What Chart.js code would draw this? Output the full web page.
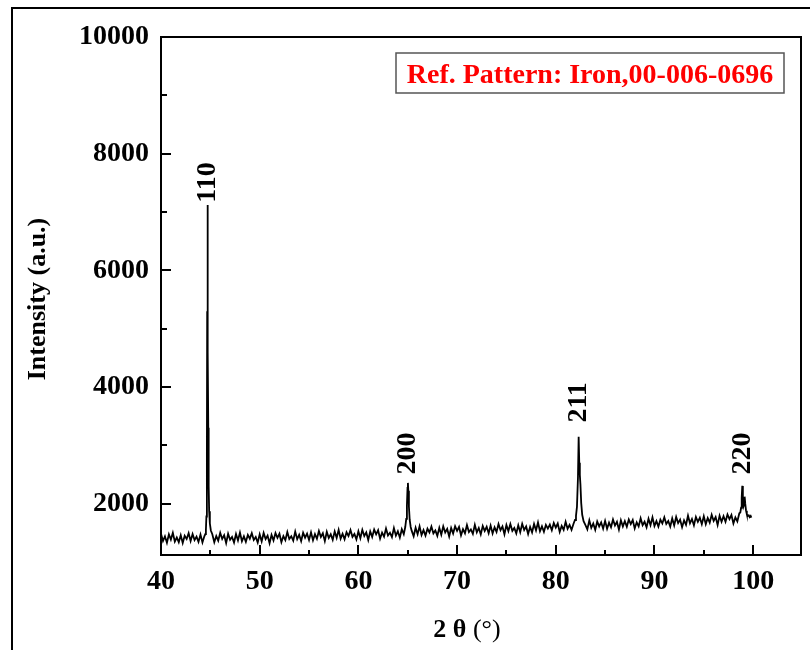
<!DOCTYPE html>
<html>
<head>
<meta charset="utf-8">
<script src="https://cdn.jsdelivr.net/npm/chart.js@4/dist/chart.umd.min.js"></script>
<style>
html,body{margin:0;padding:0;background:#fff;}
canvas{display:block;}
</style>
</head>
<body>
<canvas id="c" width="810" height="650"></canvas>
<script>
// ---- data ----
const angles = [
40.0,40.2,40.4,40.6,40.8,41.0,41.2,41.4,41.6,41.8,42.0,42.2,42.4,42.6,42.8,43.0,43.2,43.4,43.6,43.8,44.0,44.2,44.4,
44.5,44.55,44.6,44.65,44.68,44.7,44.72,44.74,44.76,44.79,44.83,44.88,44.95,45.05,
45.2,45.4,45.6,45.8,46.0,46.2,46.4,46.6,46.8,47.0,
47.2,47.4,47.6,47.8,48.0,48.2,48.4,48.6,48.8,49.0,
49.2,49.4,49.6,49.8,50.0,50.2,50.4,50.6,50.8,51.0,
51.2,51.4,51.6,51.8,52.0,52.2,52.4,52.6,52.8,53.0,
53.2,53.4,53.6,53.8,54.0,54.2,54.4,54.6,54.8,55.0,
55.2,55.4,55.6,55.8,56.0,56.2,56.4,56.6,56.8,57.0,
57.2,57.4,57.6,57.8,58.0,58.2,58.4,58.6,58.8,59.0,
59.2,59.4,59.6,59.8,60.0,60.2,60.4,60.6,60.8,61.0,
61.2,61.4,61.6,61.8,62.0,62.2,62.4,62.6,62.8,63.0,
63.2,63.4,63.6,63.8,64.0,64.2,64.4,64.6,
64.75,64.85,64.92,64.98,65.02,65.06,65.12,65.2,65.3,
65.4,65.6,65.8,66.0,66.2,66.4,66.6,66.8,67.0,67.2,
67.4,67.6,67.8,68.0,68.2,68.4,68.6,68.8,69.0,69.2,
69.4,69.6,69.8,70.0,70.2,70.4,70.6,70.8,71.0,71.2,
71.4,71.6,71.8,72.0,72.2,72.4,72.6,72.8,73.0,73.2,
73.4,73.6,73.8,74.0,74.2,74.4,74.6,74.8,75.0,75.2,
75.4,75.6,75.8,76.0,76.2,76.4,76.6,76.8,77.0,77.2,
77.4,77.6,77.8,78.0,78.2,78.4,78.6,78.8,79.0,79.2,
79.4,79.6,79.8,80.0,80.2,80.4,80.6,80.8,81.0,81.2,
81.4,81.6,81.8,
81.95,82.05,82.15,82.25,82.32,82.38,82.44,82.5,82.58,82.68,82.82,
83.0,83.2,83.4,83.6,83.8,84.0,84.2,84.4,84.6,84.8,
85.0,85.2,85.4,85.6,85.8,86.0,86.2,86.4,86.6,86.8,
87.0,87.2,87.4,87.6,87.8,88.0,88.2,88.4,88.6,88.8,
89.0,89.2,89.4,89.6,89.8,90.0,90.2,90.4,90.6,90.8,
91.0,91.2,91.4,91.6,91.8,92.0,92.2,92.4,92.6,92.8,
93.0,93.2,93.4,93.6,93.8,94.0,94.2,94.4,94.6,94.8,
95.0,95.2,95.4,95.6,95.8,96.0,96.2,96.4,96.6,96.8,
97.0,97.2,97.4,97.6,97.8,98.0,98.2,98.4,98.6,
98.7,98.78,98.84,98.9,98.96,99.02,99.08,99.14,99.2,99.28,99.36,99.45,99.55,99.65,99.75,99.82
];
const intensities = [
1485,1360,1440,1330,1475,1385,1500,1350,1420,1340,1460,1325,1450,1395,1495,1360,1480,1375,1435,1345,1470,1335,1445,
1480,1550,1780,2900,5300,7120,5000,4740,4600,3300,2300,1870,1660,1540,
1475,1340,1445,1365,1500,1395,1460,1325,1485,1380,
1430,1335,1480,1370,1505,1355,1440,1345,1465,1400,
1493,1378,1428,1333,1473,1353,1498,1393,1453,1323,
1465,1370,1495,1415,1485,1340,1445,1375,1515,1395,
1442,1367,1522,1392,1467,1357,1502,1417,1487,1377,
1508,1373,1478,1398,1533,1428,1493,1358,1518,1413,
1475,1380,1525,1415,1550,1400,1485,1390,1510,1445,
1547,1432,1482,1387,1527,1407,1552,1447,1507,1377,
1525,1430,1555,1475,1545,1400,1505,1435,1575,1455,
1502,1427,1582,1452,1527,1417,1562,1477,
1600,1740,1980,2270,2356,2220,1950,1720,1600,
1537,1442,1587,1477,1612,1462,1547,1452,1572,1507,
1607,1492,1542,1447,1587,1467,1612,1507,1567,1437,
1583,1488,1613,1533,1603,1458,1563,1493,1633,1513,
1558,1483,1638,1508,1583,1473,1618,1533,1603,1493,
1625,1490,1595,1515,1650,1545,1610,1475,1635,1530,
1650,1535,1585,1490,1630,1510,1655,1550,1610,1480,
1602,1507,1652,1542,1677,1527,1612,1517,1637,1572,
1640,1545,1670,1590,1660,1515,1620,1550,1690,1570,
1635,1550,1655,
1720,1790,1950,2450,3145,2700,2494,2330,2010,1810,1700,
1635,1560,1715,1585,1660,1550,1695,1610,1680,1570,
1705,1570,1675,1595,1730,1625,1690,1555,1715,1610,
1700,1605,1730,1650,1720,1575,1680,1610,1750,1630,
1691,1596,1741,1631,1766,1616,1701,1606,1726,1661,
1767,1652,1702,1607,1747,1627,1772,1667,1727,1597,
1713,1638,1793,1663,1738,1628,1773,1688,1758,1648,
1784,1649,1754,1674,1809,1704,1769,1634,1794,1689,
1785,1690,1815,1735,1805,1660,1765,1695,1835,
1850,1930,2100,2305,2050,1950,1980,2120,2000,1880,1820,1790,1800,1770,1790,1760
];
const xTicks = [40, 50, 60, 70, 80, 90, 100];
const yTicks = [2000, 4000, 6000, 8000, 10000];
const peakNames = ['110', '200', '211', '220'];
const peakAngles = [44.7, 65.02, 82.32, 98.9];
const peakLabelBase = [7160, 2500, 3390, 2500];
const refText = 'Ref. Pattern: Iron,00-006-0696';

// ---- layout / style ----
const FONT = "'Liberation Serif', 'Times New Roman', serif";
const AREA = {left: 161, right: 801, top: 37, bottom: 555};
const W = 810, H = 650;

const points = angles.map((a, i) => ({x: a, y: intensities[i]}));

const decor = {
  id: 'decor',
  afterDraw(chart) {
    const ctx = chart.ctx;
    const xs = chart.scales.x, ys = chart.scales.y;
    const ca = chart.chartArea;
    ctx.save();
    // outer frame
    ctx.strokeStyle = '#000';
    ctx.lineWidth = 2;
    ctx.strokeRect(12, 8, 820, 660);
    // plot box
    ctx.lineWidth = 2;
    ctx.strokeRect(ca.left, ca.top, ca.right - ca.left, ca.bottom - ca.top);
    // ticks (inward)
    ctx.lineWidth = 2;
    ctx.beginPath();
    xTicks.forEach(v => {
      const px = Math.round(xs.getPixelForValue(v));
      ctx.moveTo(px, ca.bottom); ctx.lineTo(px, ca.bottom - 10);
      const m = v + 5;
      if (m < xs.max) {
        const pm = Math.round(xs.getPixelForValue(m));
        ctx.moveTo(pm, ca.bottom); ctx.lineTo(pm, ca.bottom - 5);
      }
    });
    yTicks.forEach(v => {
      const py = Math.round(ys.getPixelForValue(v));
      ctx.moveTo(ca.left, py); ctx.lineTo(ca.left + 10, py);
      const m = v - 1000;
      if (m > ys.min) {
        const pm = Math.round(ys.getPixelForValue(m));
        ctx.moveTo(ca.left, pm); ctx.lineTo(ca.left + 6, pm);
      }
    });
    ctx.stroke();

    // peak labels
    ctx.fillStyle = '#000';
    ctx.font = 'bold 28px ' + FONT;
    ctx.textAlign = 'left';
    ctx.textBaseline = 'middle';
    peakNames.forEach((t, i) => {
      const px = xs.getPixelForValue(peakAngles[i]);
      const py = ys.getPixelForValue(peakLabelBase[i]);
      ctx.save();
      ctx.translate(px - 1, py);
      ctx.rotate(-Math.PI / 2);
      ctx.fillText(t, 0, 1);
      ctx.restore();
    });

    // reference legend box
    ctx.fillStyle = '#fff';
    ctx.fillRect(396, 53, 388, 40);
    ctx.strokeStyle = '#555';
    ctx.lineWidth = 1.5;
    ctx.strokeRect(396, 53, 388, 40);
    ctx.fillStyle = '#ff0000';
    ctx.font = 'bold 28px ' + FONT;
    ctx.textAlign = 'center';
    ctx.textBaseline = 'alphabetic';
    ctx.fillText(refText, 590, 83);

    // y axis title
    ctx.fillStyle = '#000';
    ctx.font = 'bold 26px ' + FONT;
    ctx.save();
    ctx.translate(45, 299);
    ctx.rotate(-Math.PI / 2);
    ctx.textAlign = 'center';
    ctx.fillText('Intensity (a.u.)', 0, 0);
    ctx.restore();

    // x axis title: bold "2 θ " + regular "(°)"
    const boldPart = '2 θ ';
    const regPart = '(°)';
    ctx.font = 'bold 26px ' + FONT;
    const w1 = ctx.measureText(boldPart).width;
    ctx.font = '26px ' + FONT;
    const w2 = ctx.measureText(regPart).width;
    const x0 = 467 - (w1 + w2) / 2;
    ctx.textAlign = 'left';
    ctx.font = 'bold 26px ' + FONT;
    ctx.fillText(boldPart, x0, 637);
    ctx.font = '26px ' + FONT;
    ctx.fillText(regPart, x0 + w1, 637);
    ctx.restore();
  }
};

new Chart(document.getElementById('c'), {
  type: 'line',
  data: {
    datasets: [{
      data: points,
      borderColor: '#000',
      borderWidth: 1.8,
      pointRadius: 0,
      tension: 0,
      fill: false
    }]
  },
  options: {
    responsive: false,
    animation: false,
    devicePixelRatio: 1,
    layout: {padding: {left: 0, right: W - AREA.right, top: AREA.top, bottom: 0}},
    plugins: {legend: {display: false}, tooltip: {enabled: false}},
    scales: {
      x: {
        type: 'linear',
        min: 40, max: 104.85,
        grid: {display: false, drawTicks: false},
        border: {display: false},
        afterBuildTicks: s => { s.ticks = xTicks.map(v => ({value: v})); },
        afterFit: s => { s.height = H - AREA.bottom; },
        ticks: {
          padding: 10, color: '#000', maxRotation: 0, autoSkip: false,
          callback: v => String(v),
          font: {family: FONT, size: 28, weight: 'bold'}
        }
      },
      y: {
        type: 'linear',
        min: 1120, max: 10000,
        grid: {display: false, drawTicks: false},
        border: {display: false},
        afterBuildTicks: s => { s.ticks = yTicks.map(v => ({value: v})); },
        afterFit: s => { s.width = AREA.left; },
        ticks: {
          padding: 12, color: '#000', autoSkip: false,
          callback: v => String(v),
          font: {family: FONT, size: 28, weight: 'bold'}
        }
      }
    }
  },
  plugins: [decor]
});
</script>
</body>
</html>
